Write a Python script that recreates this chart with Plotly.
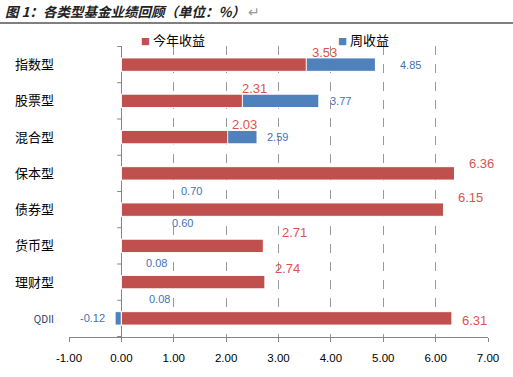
import plotly.graph_objects as go

# ---- data ----
categories = ["指数型", "股票型", "混合型", "保本型", "债券型", "货币型", "理财型", "QDII"]
ytd_return = [3.53, 2.31, 2.03, 6.36, 6.15, 2.71, 2.74, 6.31]      # 今年收益
week_return = [4.85, 3.77, 2.59, 0.70, 0.60, 0.08, 0.08, -0.12]    # 周收益
x_ticks = [-1, 0, 1, 2, 3, 4, 5, 6, 7]
x_tick_labels = ["-1.00", "0.00", "1.00", "2.00", "3.00", "4.00", "5.00", "6.00", "7.00"]
series_names = ["今年收益", "周收益"]
title_text = "图 1：各类型基金业绩回顾（单位：%）"

# ---- styles ----
RED = "#C0504D"
BLUE = "#4F81BD"
RED_TXT = "#D9534F"
BLUE_TXT = "#3F72B5"
CJK = "Noto Sans CJK SC"
NUM = "Liberation Sans"

# label pixel offsets (dx from bar end, dy up from bar centre)
red_dx = [4, -2, 2, 13, 13, 17, 8, 8]
red_dy = [12, 12, 13, 10, 12, 13, 14, -2]
blue_dx = [23, 9, 8, 21, 17, 18, 21, -8]
blue_dy = [0, 0, 0, -18, -13, -17, -17, 0]

ticktext = [c if c != "QDII" else "<span style='font-size:10px;color:#1F3864'>QDII</span>" for c in categories]

fig = go.Figure()
fig.add_trace(go.Bar(
    y=categories, x=week_return, orientation="h", name=series_names[1],
    marker=dict(color=BLUE, line=dict(color="white", width=1)), width=0.37,
    showlegend=False,
))
fig.add_trace(go.Bar(
    y=categories, x=ytd_return, orientation="h", name=series_names[0],
    marker=dict(color=RED, line=dict(color="white", width=1)), width=0.37,
    showlegend=False,
))

annotations = []
for i, c in enumerate(categories):
    annotations.append(dict(
        x=ytd_return[i], y=c, xref="x", yref="y", text=f"{ytd_return[i]:.2f}",
        showarrow=False, xanchor="left", yanchor="middle",
        xshift=red_dx[i], yshift=red_dy[i],
        font=dict(family=NUM, size=13, color=RED_TXT),
    ))
    v = week_return[i]
    annotations.append(dict(
        x=v, y=c, xref="x", yref="y", text=f"{v:.2f}",
        showarrow=False, xanchor="left" if v >= 0 else "right", yanchor="middle",
        xshift=blue_dx[i], yshift=blue_dy[i],
        font=dict(family=NUM, size=11, color=BLUE_TXT),
    ))

# legend drawn as text with coloured squares
annotations.append(dict(
    x=(139 - 69) / 419, y=(337 - 39) / 291, xref="paper", yref="paper",
    text=f"<span style='color:{RED};font-size:9px'>■</span> {series_names[0]}",
    showarrow=False, xanchor="left", yanchor="middle",
    font=dict(family=CJK, size=13, color="black"),
))
annotations.append(dict(
    x=(336 - 69) / 419, y=(337 - 39) / 291, xref="paper", yref="paper",
    text=f"<span style='color:{BLUE};font-size:9px'>■</span> {series_names[1]}",
    showarrow=False, xanchor="left", yanchor="middle",
    font=dict(family=CJK, size=13, color="black"),
))
# title
annotations.append(dict(
    x=(3 - 69) / 419, y=(337 - 11) / 291, xref="paper", yref="paper",
    text=f"<b><i>{title_text}</i></b><span style='color:#999999'> ↵</span>",
    showarrow=False, xanchor="left", yanchor="middle",
    font=dict(family=CJK, size=13.5, color="#222222"),
))

shapes = [dict(
    type="line", xref="paper", yref="paper",
    x0=-69 / 419, x1=(513 - 69) / 419, y0=(337 - 23) / 291, y1=(337 - 23) / 291,
    line=dict(color="black", width=1),
)]
# small tick marks on the category axis (at x = 0), between categories
for k in range(len(categories) + 1):
    shapes.append(dict(
        type="line", xref="x", yref="y", x0=-0.08, x1=0, y0=k - 0.5, y1=k - 0.5,
        line=dict(color="#868686", width=1),
    ))

fig.update_layout(
    width=513, height=377,
    margin=dict(l=69, r=25, t=46, b=40),
    paper_bgcolor="white", plot_bgcolor="white",
    barmode="overlay",
    annotations=annotations,
    shapes=shapes,
    xaxis=dict(
        range=[-1, 7], tickvals=x_ticks, ticktext=x_tick_labels,
        showgrid=True, gridcolor="#9A9A9A", griddash="dash", gridwidth=1,
        zeroline=True, zerolinecolor="#868686", zerolinewidth=1,
        showline=True, linecolor="#868686", linewidth=1,
        ticks="outside", ticklen=4, tickcolor="#868686",
        tickfont=dict(family=NUM, size=11.5, color="black"),
        ticklabelstandoff=6,
    ),
    yaxis=dict(
        categoryorder="array", categoryarray=categories,
        tickvals=categories, ticktext=ticktext,
        autorange="reversed", showgrid=False, zeroline=False, showline=False,
        ticks="", tickfont=dict(family=CJK, size=13, color="black"),
        ticklabelstandoff=14,
    ),
)

fig.write_html(
    "out.html",
    config={"displayModeBar": False},
    post_script="document.body.style.margin='0';document.body.style.overflow='hidden';",
)
